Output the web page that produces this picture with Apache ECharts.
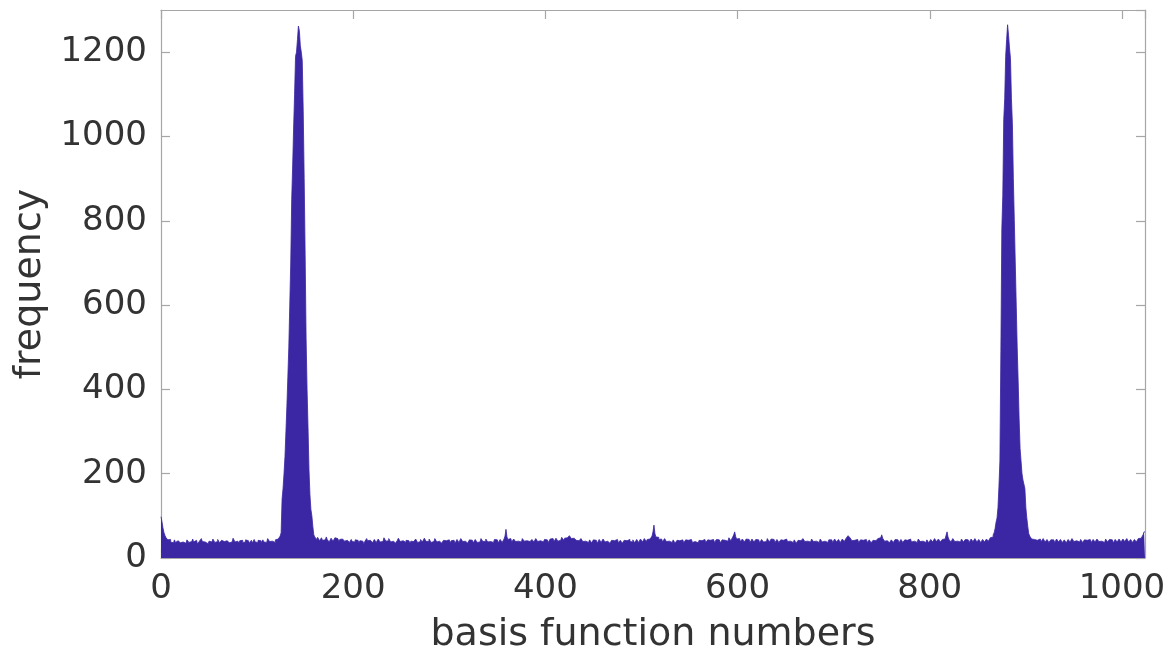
<!DOCTYPE html>
<html>
<head>
<meta charset="utf-8">
<script src="https://cdn.jsdelivr.net/npm/echarts@6/dist/echarts.min.js"></script>
<style>
  html, body { margin: 0; padding: 0; background: #ffffff; }
  #chart { width: 1170px; height: 654px; }
</style>
</head>
<body>
<div id="chart"></div>
<script>
    // histogram counts per basis function number, split into segments
    // bins 0 - 124
    const lowA = [
        98,86,72,61,54,49,46,43,41,44,38,42,36,40,43,37,35,41,44,38,36,33,38,42,39,35,39,43,40,37,34,39,
        41,45,38,36,42,39,33,37,40,44,46,39,35,38,41,37,34,36,40,43,38,41,45,42,37,35,39,44,40,36,38,42,
        45,39,35,37,41,44,40,36,33,38,42,47,43,38,36,40,39,35,41,45,42,37,34,38,43,46,41,38,35,39,42,36,
        40,44,38,35,37,42,45,41,36,39,43,38,34,37,41,46,42,39,36,40,44,41,37,43,47,45,42,46,52
    ];
    // bins 125 - 159
    const peakA = [
        60,140,165,200,240,300,360,430,500,600,700,850,930,1020,1100,1190,1200,1230,1262,1250,
        1215,1200,1180,1060,900,720,520,400,310,210,150,115,100,75,55
    ];
    // bins 160 - 865
    const lowB = [
        50,47,44,49,45,41,44,48,42,40,43,46,50,44,41,38,42,47,45,40,43,48,51,46,42,39,44,41,45,49,43,40,
        38,42,46,41,37,40,44,39,35,38,43,47,42,39,36,41,45,40,37,34,39,43,46,41,38,42,45,40,36,39,44,41,
        37,40,45,42,38,35,39,43,48,44,40,37,41,46,42,38,36,40,44,39,35,38,42,47,43,39,36,41,44,40,37,42,
        46,41,38,35,40,43,39,36,42,45,41,37,34,39,44,40,38,42,47,43,39,36,40,45,41,37,35,39,43,46,42,38,
        36,40,44,39,35,38,42,46,41,37,40,43,39,36,41,45,42,38,35,39,44,40,37,41,46,43,39,36,40,42,38,35,
        39,43,47,42,38,36,40,44,41,37,34,38,42,46,43,39,36,40,45,41,38,35,39,43,40,37,41,44,48,43,39,36,
        40,44,41,37,39,45,52,68,50,44,40,46,42,38,41,45,43,39,36,40,44,41,38,42,46,43,40,37,41,45,42,39,
        36,40,44,41,38,42,46,43,39,37,41,45,42,38,40,44,47,43,40,37,41,45,49,46,42,39,43,47,44,40,38,42,
        46,49,45,42,47,51,48,44,50,53,49,46,43,47,50,46,42,45,41,38,42,46,43,39,36,40,44,41,37,39,43,40,
        36,39,43,47,42,38,35,39,44,41,37,40,45,42,38,36,40,43,39,35,38,42,46,41,37,40,44,40,36,39,42,38,
        35,38,42,45,41,37,40,44,39,36,38,43,40,36,39,44,41,37,40,45,42,38,41,46,43,39,44,48,45,41,47,52,
        62,78,58,50,46,49,44,41,45,42,38,41,46,43,39,36,40,44,41,37,40,43,39,35,38,42,45,41,37,39,43,40,
        36,39,43,46,42,38,41,44,40,37,35,39,43,40,36,38,42,45,41,38,40,44,41,37,39,43,46,42,38,41,44,40,
        37,40,44,47,43,39,36,40,43,39,42,46,43,40,44,48,45,41,44,50,55,62,51,45,42,46,43,39,41,45,42,38,
        41,45,49,44,40,37,41,45,42,38,40,44,47,43,39,36,40,44,41,38,35,39,43,46,42,38,41,45,48,44,40,37,
        41,44,40,37,39,43,46,42,38,41,45,42,39,36,40,44,41,37,40,43,39,35,38,42,45,41,38,42,46,43,39,37,
        40,44,41,38,42,45,42,39,36,40,43,40,37,41,45,42,38,36,40,44,41,37,39,43,47,43,40,37,41,45,42,38,
        41,44,40,37,40,45,42,39,43,47,50,53,57,48,44,41,45,42,38,40,44,41,37,39,43,46,42,38,41,44,40,37,
        39,43,40,36,38,42,45,41,38,42,46,44,48,52,55,47,43,40,37,41,44,40,36,39,43,41,37,40,44,47,43,39,
        36,40,44,41,37,39,43,46,42,38,41,45,42,38,36,40,43,40,37,41,45,42,39,36,40,44,41,37,40,43,39,36,
        40,44,41,38,42,46,43,39,41,45,42,38,40,44,47,45,49,54,62,50,44,41,38,42,46,43,39,36,40,44,41,38,
        41,45,42,38,40,44,47,43,39,37,41,45,42,39,43,46,42,38,41,44,40,37,40,44,41,38,42,45,43,40,44,48,46,50
    ];
    // bins 866 - 903
    const peakB = [
        55,60,70,85,95,120,170,230,490,780,860,1040,1090,1190,1230,1265,1240,1210,1185,1090,
        1030,900,800,700,600,500,420,330,260,230,200,185,175,165,120,95,75,58
    ];
    // bins 904 - 1023
    const lowC = [
        52,48,45,49,44,41,45,42,38,41,45,42,39,43,46,42,38,41,44,40,37,39,43,47,43,40,37,41,45,42,38,40,
        44,41,37,40,43,39,36,40,44,41,38,42,46,43,39,37,41,45,42,38,40,44,41,37,39,43,46,42,38,41,44,40,
        37,40,44,41,38,42,45,42,39,36,40,43,40,37,41,45,42,38,40,44,47,43,39,36,40,44,41,38,42,45,41,38,
        41,45,42,39,43,46,42,38,41,44,40,37,40,44,41,38,42,46,43,47,50,48,55,62
    ];

    const counts = lowA.concat(peakA, lowB, peakB, lowC);
    const xTicks = [0, 200, 400, 600, 800, 1000];
    const yTicks = [0, 200, 400, 600, 800, 1000, 1200];

    // step line: each bin spans [i, i+1)
    let histData = counts.map((v, i) => [i, v]);
    histData.push([counts.length, counts[counts.length - 1]]);

    const frameColor = '#a6a6a6';
    const textColor = '#333333';
    const fontFamily = 'DejaVu Sans';

    function frameAxis(pos, extra) {
        return Object.assign({
            type: 'value',
            position: pos,
            axisLine: { show: true, onZero: false, lineStyle: { color: frameColor, width: 1.2 } },
            axisTick: { show: true, inside: true, length: 9, lineStyle: { color: frameColor, width: 1.2 } },
            splitLine: { show: false },
            axisLabel: { show: false }
        }, extra);
    }

    const chart = echarts.init(document.getElementById('chart'));
    chart.setOption({
        backgroundColor: '#ffffff',
        animation: false,
        grid: { left: 161, right: 25, top: 10, bottom: 96, containLabel: false, outerBoundsMode: 'none' },
        xAxis: [
            frameAxis('bottom', {
                min: 0, max: 1024, interval: xTicks[1] - xTicks[0],
                name: 'basis function numbers',
                nameLocation: 'middle',
                nameGap: 58,
                nameTextStyle: { fontSize: 38, color: textColor, fontFamily: fontFamily },
                axisLabel: {
                    show: true, fontSize: 34, color: textColor, fontFamily: fontFamily, margin: 14,
                    showMaxLabel: false,
                    formatter: v => xTicks.indexOf(v) >= 0 ? String(v) : ''
                }
            }),
            frameAxis('top', { min: 0, max: 1024, interval: 200 })
        ],
        yAxis: [
            frameAxis('left', {
                min: 0, max: 1300, interval: yTicks[1] - yTicks[0],
                name: 'frequency',
                nameLocation: 'middle',
                nameGap: 108,
                nameTextStyle: { fontSize: 38, color: textColor, fontFamily: fontFamily },
                axisLabel: {
                    show: true, fontSize: 34, color: textColor, fontFamily: fontFamily, margin: 14,
                    showMaxLabel: false,
                    formatter: v => yTicks.indexOf(v) >= 0 ? String(v) : ''
                }
            }),
            frameAxis('right', { min: 0, max: 1300, interval: 200 })
        ],
        series: [
            {
                type: 'line',
                step: 'end',
                symbol: 'none',
                data: histData,
                lineStyle: { color: '#3b26a3', width: 0.8 },
                areaStyle: { color: '#3b26a3', opacity: 1 },
                z: 2
            }
        ]
    });
</script>
</body>
</html>
